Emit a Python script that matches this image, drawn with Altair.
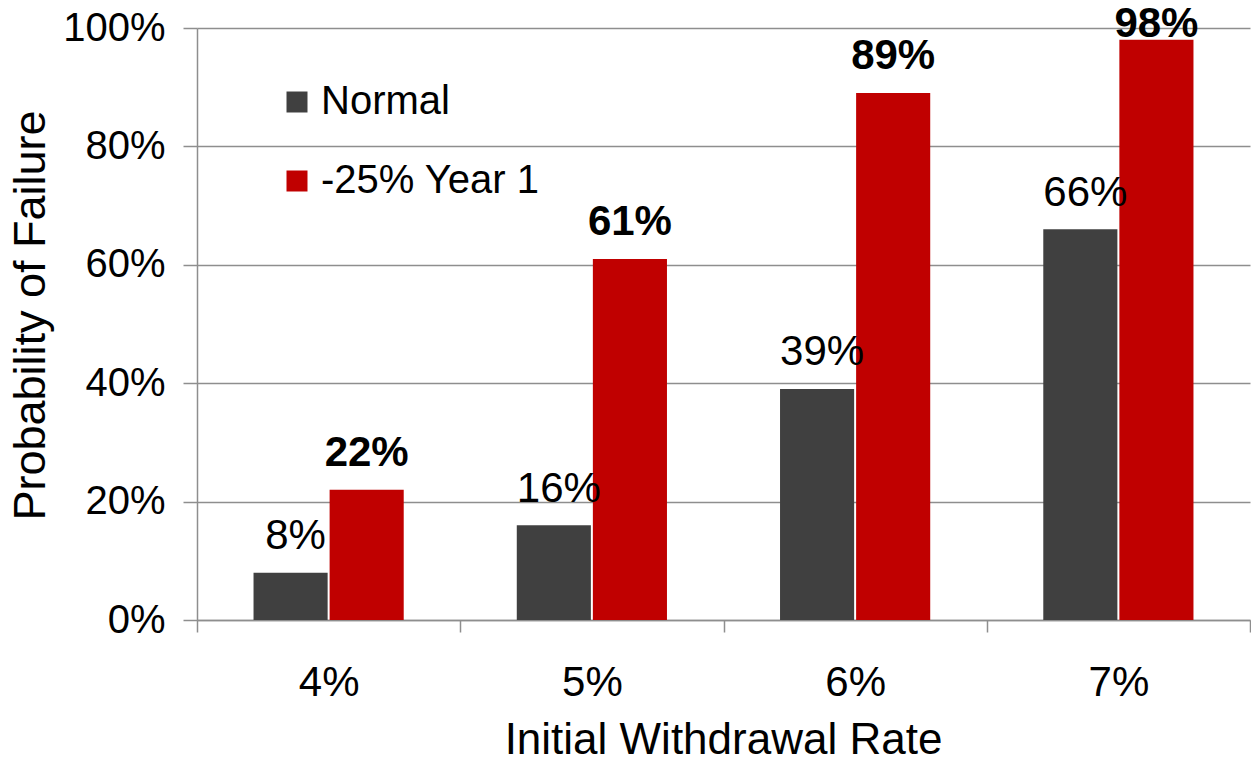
import altair as alt
import pandas as pd

# Withdrawal-rate categories and the two scenarios
rates = ["4%", "5%", "6%", "7%"]
series = ["Normal", "-25% Year 1"]
normal_fail = [8, 16, 39, 66]
crash_fail = [22, 61, 89, 98]
y_ticks = [0, 20, 40, 60, 80, 100]
colors = ["#404040", "#C00000"]

rows = []
for r, n, c in zip(rates, normal_fail, crash_fail):
    rows.append({"rate": r, "series": series[0], "value": n})
    rows.append({"rate": r, "series": series[1], "value": c})
df = pd.DataFrame(rows)

FONT = "Liberation Sans"
GRID = "#8e8e8e"

x_enc = alt.X(
    "rate:N",
    sort=rates,
    scale=alt.Scale(paddingInner=0, paddingOuter=0),
    axis=alt.Axis(
        title="Initial Withdrawal Rate",
        titleFontSize=44,
        titleFontWeight="normal",
        titleColor="black",
        titleX=526,
        titleY=133,
        titleAlign="center",
        titleBaseline="alphabetic",
        labelAngle=0,
        labelFontSize=42,
        labelColor="black",
        labelBaseline="alphabetic",
        labelPadding=63,
        tickBand="extent",
        tickSize=12,
        tickColor=GRID,
        tickWidth=1.5,
        domainColor=GRID,
        domainWidth=1.5,
        grid=False,
    ),
)
xoff_enc = alt.XOffset(
    "series:N",
    sort=series,
    scale=alt.Scale(paddingInner=0.026, paddingOuter=0.743),
)
y_scale = alt.Scale(domain=[0, 100], nice=False)

bars = alt.Chart(df).mark_bar().encode(
    x=x_enc,
    xOffset=xoff_enc,
    y=alt.Y(
        "value:Q",
        scale=y_scale,
        axis=alt.Axis(
            values=y_ticks,
            labelExpr="datum.value + '%'",
            title="Probability of Failure",
            titleFontSize=45,
            titleFontWeight="normal",
            titleColor="black",
            titleX=-153,
            titleY=287,
            titleAlign="center",
            titleBaseline="alphabetic",
            labelFontSize=40,
            labelColor="black",
            labelPadding=18,
            tickSize=14,
            tickColor=GRID,
            tickWidth=1.5,
            domainColor=GRID,
            domainWidth=1.5,
            grid=True,
            gridColor=GRID,
            gridWidth=1.5,
        ),
    ),
    color=alt.Color(
        "series:N",
        sort=series,
        scale=alt.Scale(domain=series, range=colors),
        legend=alt.Legend(
            title=None,
            orient="none",
            legendX=80,
            legendY=54,
            symbolType="square",
            symbolSize=441,
            symbolStrokeWidth=0,
            labelFontSize=40,
            labelColor="black",
            labelOffset=4,
            labelLimit=0,
            rowPadding=39,
            padding=0,
        ),
    ),
)

label_base = alt.Chart(df).transform_calculate(
    label_y="min(datum.value + 4, 98.5)",
    label="datum.value + '%'",
)

normal_labels = label_base.transform_filter(
    alt.datum.series == series[0]
).mark_text(
    fontSize=42, color="black", baseline="alphabetic", align="center", dx=5
).encode(
    x=alt.X("rate:N", sort=rates),
    xOffset=alt.XOffset("series:N", sort=series),
    y=alt.Y("label_y:Q", scale=y_scale),
    text="label:N",
)

crash_labels = label_base.transform_filter(
    alt.datum.series == series[1]
).mark_text(
    fontSize=42, fontWeight="bold", color="black", baseline="alphabetic", align="center"
).encode(
    x=alt.X("rate:N", sort=rates),
    xOffset=alt.XOffset("series:N", sort=series),
    y=alt.Y("label_y:Q", scale=y_scale),
    text="label:N",
)

chart = (
    alt.layer(bars, normal_labels, crash_labels)
    .properties(
        width=1053,
        height=592,
        autosize=alt.AutoSizeParams(type="none"),
        padding={"left": 197, "top": 28, "right": 1, "bottom": 144},
        background="white",
    )
    .configure(font=FONT)
    .configure_view(strokeWidth=0)
)

chart.save("out.html", embed_options={"renderer": "svg", "actions": False})
